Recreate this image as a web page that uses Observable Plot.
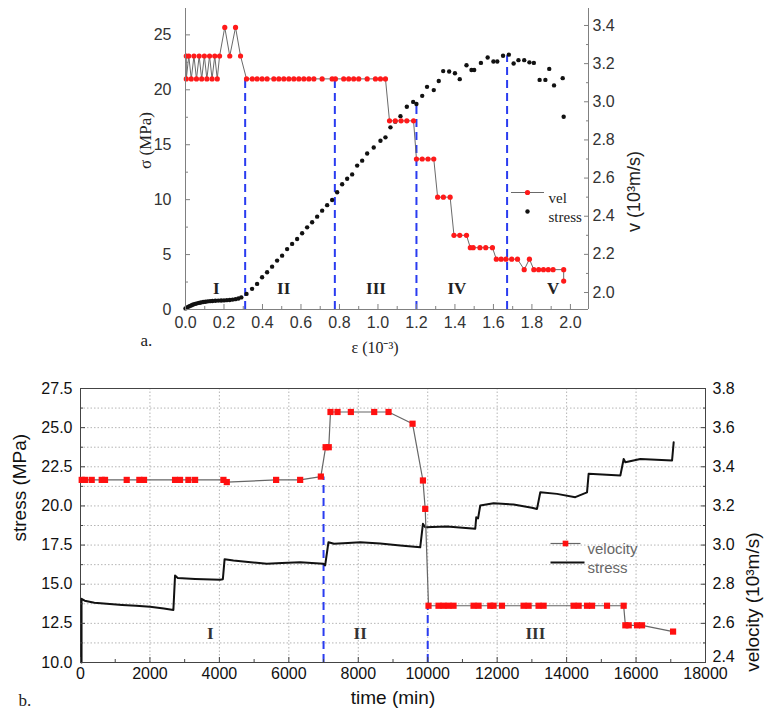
<!DOCTYPE html>
<html><head><meta charset="utf-8">
<script src="https://cdn.jsdelivr.net/npm/d3@7"></script>
<script src="https://cdn.jsdelivr.net/npm/@observablehq/plot@0.6"></script>
<style>
body{margin:0;background:#fff;}
#wrap{width:764px;height:714px;position:relative;overflow:hidden;background:#fff}
#a{position:absolute;left:0;top:0}
#b{position:absolute;left:0;top:365px}
</style></head><body><div id="wrap"><div id="a"></div><div id="b"></div></div>
<script>
// ---------- Panel a data: strain (1e-3) vs stress (MPa) and velocity (1e3 m/s)
const stressA = [[0.000,0.10],[0.008,0.18],[0.016,0.26],[0.024,0.33],[0.032,0.39],[0.040,0.45],[0.050,0.51],[0.060,0.56],[0.070,0.60],[0.080,0.64],[0.092,0.68],[0.104,0.71],[0.116,0.74],[0.128,0.76],[0.140,0.78],[0.155,0.80],[0.170,0.81],[0.185,0.82],[0.200,0.83],[0.215,0.85],[0.230,0.87],[0.245,0.90],[0.260,0.94],[0.275,1.00],[0.290,1.10],
[0.317,1.42],[0.346,1.88],[0.372,2.33],[0.398,2.94],[0.424,3.39],[0.450,3.90],[0.476,4.45],[0.502,4.90],[0.528,5.50],[0.554,5.97],[0.580,6.42],[0.606,6.94],[0.632,7.48],[0.658,7.94],[0.684,8.45],[0.710,9.00],[0.736,9.50],[0.762,9.97],[0.788,10.67],[0.814,11.40],[0.840,11.90],[0.866,12.30],[0.892,13.10],[0.918,13.55],[0.944,14.20],[0.978,14.75],[1.013,15.36],[1.039,15.67],[1.065,16.58],[1.090,17.10],[1.117,17.60],[1.150,18.45],[1.183,18.90],[1.200,18.70],[1.230,19.45],[1.255,20.27],[1.290,19.97],[1.316,20.80],[1.339,21.70],[1.370,21.67],[1.400,21.50],[1.425,20.97],[1.460,22.24],[1.486,21.80],[1.500,21.80],[1.535,22.45],[1.570,22.94],[1.600,22.58],[1.620,22.58],[1.650,23.10],[1.680,23.20],[1.705,22.40],[1.730,22.70],[1.760,22.70],[1.787,22.50],[1.810,22.45],[1.840,20.90],[1.870,20.90],[1.890,21.90],[1.915,20.40],[1.960,21.06],[1.965,17.55]];
const velA = [[0.004,3.24],[0.004,3.12],[0.017,3.24],[0.030,3.12],[0.044,3.24],[0.057,3.12],[0.071,3.24],[0.084,3.12],[0.098,3.24],[0.111,3.12],[0.125,3.24],[0.138,3.12],[0.152,3.24],[0.165,3.12],[0.177,3.24],[0.204,3.39],[0.230,3.24],[0.260,3.39],[0.286,3.24],
[0.317,3.12],[0.347,3.12],[0.372,3.12],[0.398,3.12],[0.424,3.12],[0.459,3.12],[0.485,3.12],[0.511,3.12],[0.537,3.12],[0.563,3.12],[0.589,3.12],[0.615,3.12],[0.641,3.12],[0.667,3.12],[0.710,3.12],[0.762,3.12],[0.779,3.12],[0.822,3.12],[0.848,3.12],[0.874,3.12],[0.900,3.12],[0.944,3.12],[0.987,3.12],[1.013,3.12],[1.039,3.12],
[1.060,2.90],[1.090,2.90],[1.120,2.90],[1.150,2.90],[1.185,2.90],
[1.200,2.70],[1.230,2.70],[1.260,2.70],[1.290,2.70],
[1.310,2.50],[1.340,2.50],[1.375,2.50],
[1.395,2.30],[1.425,2.30],[1.460,2.30],
[1.480,2.235],[1.495,2.235],[1.530,2.235],[1.560,2.235],[1.595,2.235],
[1.615,2.175],[1.640,2.175],[1.665,2.175],[1.695,2.175],[1.725,2.175],
[1.760,2.12],[1.787,2.175],
[1.810,2.12],[1.835,2.12],[1.860,2.12],[1.885,2.12],[1.910,2.12],[1.965,2.12],[1.965,2.06]];
const aXTicks = [0,0.2,0.4,0.6,0.8,1.0,1.2,1.4,1.6,1.8,2.0];
const aXMinor = [0.1,0.3,0.5,0.7,0.9,1.1,1.3,1.5,1.7,1.9];
const aSigmaTicks = [0,5,10,15,20,25];
const aSigmaMinor = [2.5,7.5,12.5,17.5,22.5];
const aVelTicks = [2.0,2.2,2.4,2.6,2.8,3.0,3.2,3.4];
const aVelMinor = [2.1,2.3,2.5,2.7,2.9,3.1,3.3];
const aBoundaryE = [0.31,0.776,1.2,1.671];
const aBoundaryTop = [21,21,18.8,23.1];
const aStages = ["I","II","III","IV","V"];
const aStageE = [0.16,0.51,0.99,1.41,1.91];

// ---------- Panel b data: time (min) vs stress (MPa) and velocity (1e3 m/s)
const stressB = [[30,10.0],[30,14.07],[120,13.95],[400,13.82],[755,13.75],[1200,13.68],[1600,13.62],[2003,13.56],[2400,13.45],[2675,13.36],[2723,15.55],[2800,15.40],[3300,15.34],[4020,15.28],[4100,15.32],[4150,16.60],[4404,16.51],[4900,16.40],[5366,16.30],[5800,16.36],[6326,16.40],[6997,16.30],[7046,16.20],[7141,17.68],[7300,17.58],[7700,17.64],[8055,17.68],[8631,17.60],[9207,17.47],[9784,17.36],[9862,18.86],[9928,18.64],[10553,18.68],[11369,18.54],[11398,19.28],[11450,19.20],[11513,20.03],[11897,20.17],[12473,20.09],[13000,19.88],[13148,19.81],[13242,20.87],[13723,20.77],[14250,20.56],[14588,20.87],[14634,22.05],[15548,21.94],[15643,23.00],[15692,22.79],[16124,23.00],[17037,22.90],[17084,24.07]];
const velB = [[35,3.333],[130,3.333],[323,3.333],[611,3.333],[706,3.333],[1331,3.333],[1695,3.333],[1830,3.333],[2723,3.333],[2867,3.333],[3107,3.333],[3300,3.333],[4116,3.333],[4213,3.322],[5634,3.333],[6326,3.333],[6922,3.35],[7060,3.5],[7150,3.5],[7200,3.68],[7402,3.68],[7786,3.68],[8459,3.68],[8872,3.68],[9563,3.62],[9862,3.33],[9928,3.185],[10023,2.69],[10311,2.69],[10455,2.69],[10599,2.69],[10743,2.69],[11320,2.69],[11464,2.69],[11801,2.69],[11897,2.69],[12138,2.69],[12761,2.69],[12905,2.69],[13193,2.69],[13337,2.69],[14202,2.69],[14346,2.69],[14588,2.69],[14732,2.69],[15164,2.69],[15643,2.69],[15692,2.59],[15788,2.59],[16028,2.59],[16172,2.59],[17066,2.558]];
const bXTicks = [0,2000,4000,6000,8000,10000,12000,14000,16000,18000];
const bXMinor = [1000,3000,5000,7000,9000,11000,13000,15000,17000];
const bStressTicks = [10,12.5,15,17.5,20,22.5,25,27.5];
const bStressMinor = [11.25,13.75,16.25,18.75,21.25,23.75,26.25];
const bVelTicks = [2.6,2.8,3.0,3.2,3.4,3.6,3.8];
const bVelBottomTick = [2.4];
const bVelMinor = [2.5,2.7,2.9,3.1,3.3,3.5,3.7];
const bGridY = [11.25,12.5,13.75,15,16.25,17.5,18.75,20,21.25,22.5,23.75,25,26.25];
const bGridX = [2000,4000,6000,8000,10000,12000,14000,16000];
const bBoundaryT = [7000,10000];
const bBoundaryTop = [21.85,13.6];
const bStages = ["I","II","III"];
const bStageT = [3740,8055,13100];

// ---------- styles
const SANS = "'Liberation Sans', Arial, Helvetica, sans-serif";
const SERIF = "'Liberation Serif', 'Times New Roman', serif";
const BLUE = "#2a3cf0";
const hLine = (w) => ({draw(ctx) { ctx.moveTo(-w / 2, 0); ctx.lineTo(w / 2, 0); }});
const blank = () => "";

// ---------- Panel a
const vToSigma = d3.scaleLinear().domain([1.911, 3.489]).range([0, 27.4]);
const stressRowsA = stressA.map(([e, s]) => ({e, s}));
const velRowsA = velA.map(([e, v]) => ({e, v, s: vToSigma(v)}));
const boundA = aBoundaryE.map((e, i) => ({e, top: aBoundaryTop[i]}));
const stageA = aStages.map((t, i) => ({t, e: aStageE[i]}));
const axA = "#808080";

const A = Plot.plot({
  width: 764, height: 365,
  marginLeft: 185, marginRight: 176, marginTop: 8, marginBottom: 56,
  x: {domain: [0, 2.094]},
  y: {domain: [0, 27.4]},
  style: {fontFamily: SANS, fontSize: "15px", color: "#333", background: "transparent", overflow: "visible"},
  marks: [
    Plot.ruleX(boundA, {x: "e", y1: 0, y2: "top", stroke: BLUE, strokeWidth: 2, strokeDasharray: "8,5"}),
    Plot.line(velRowsA, {x: "e", y: "s", stroke: "#6a6a6a", strokeWidth: 1}),
    Plot.dot(stressRowsA, {x: "e", y: "s", r: 2.2, fill: "#111"}),
    Plot.dot(velRowsA, {x: "e", y: "s", r: 2.6, fill: "#ff1a1a"}),
    Plot.text(stageA, {x: "e", y: () => 1.9, text: "t", fontFamily: SERIF, fontWeight: "bold", fontSize: 17, fill: "#222"}),
    // axis lines
    Plot.ruleX([0], {stroke: axA}),
    Plot.ruleX([2.094], {stroke: axA}),
    Plot.ruleY([0], {stroke: axA}),
    // bottom axis
    Plot.axisX(aXTicks, {tickSize: 0, tickPadding: 7, tickFormat: d3.format(".1f"), fontSize: 16, label: null}),
    Plot.axisX(aXTicks, {tickSize: -5, tickFormat: blank, label: null, stroke: axA}),
    Plot.axisX(aXMinor, {tickSize: -3, tickFormat: blank, label: null, stroke: axA}),
    // left axis (stress)
    Plot.axisY(aSigmaTicks, {tickSize: 0, tickPadding: 14, fontSize: 16, label: null}),
    Plot.axisY(aSigmaTicks, {tickSize: -5, tickFormat: blank, label: null, stroke: axA}),
    Plot.axisY(aSigmaMinor, {tickSize: -3, tickFormat: blank, label: null, stroke: axA}),
    // right axis (velocity)
    Plot.axisY(aVelTicks.map(vToSigma), {anchor: "right", tickSize: 0, tickPadding: 4, fontSize: 16, tickFormat: d => vToSigma.invert(d).toFixed(1), label: null}),
    Plot.axisY(aVelTicks.map(vToSigma), {anchor: "right", tickSize: -5, tickFormat: blank, label: null, stroke: axA}),
    Plot.axisY(aVelMinor.map(vToSigma), {anchor: "right", tickSize: -3, tickFormat: blank, label: null, stroke: axA}),
    // axis titles
    Plot.text(["σ (MPa)"], {frameAnchor: "left", dx: -40, dy: 10, rotate: -90, fontFamily: SERIF, fontSize: 17, fill: "#222"}),
    Plot.text(["v (10³m/s)"], {frameAnchor: "right", dx: 46, dy: -8, rotate: -90, fontFamily: SANS, fontSize: 18, fill: "#222"}),
    Plot.text(["ε (10⁻³)"], {frameAnchor: "bottom", dx: -12, dy: 43, fontFamily: SERIF, fontSize: 16, fill: "#222"}),
    Plot.text(["a."], {frameAnchor: "bottom-left", dx: -45, dy: 36, fontFamily: SERIF, fontSize: 17, fill: "#222"}),
    // legend
    Plot.dot([0], {frameAnchor: "top-left", dx: 342, dy: 184, symbol: hLine(33), fill: "none", stroke: "#6a6a6a", strokeWidth: 1}),
    Plot.dot([0], {frameAnchor: "top-left", dx: 342, dy: 184, r: 2.6, fill: "#ff1a1a"}),
    Plot.text(["vel"], {frameAnchor: "top-left", dx: 363, dy: 184, textAnchor: "start", fontFamily: SERIF, fontSize: 15, fill: "#222"}),
    Plot.dot([0], {frameAnchor: "top-left", dx: 342, dy: 203, r: 2.2, fill: "#111"}),
    Plot.text(["stress"], {frameAnchor: "top-left", dx: 363, dy: 203, textAnchor: "start", fontFamily: SERIF, fontSize: 15, fill: "#222"})
  ]
});
document.getElementById("a").appendChild(A);

// ---------- Panel b
const vToStress = d3.scaleLinear().domain([2.4, 3.8]).range([10, 27.5]);
const stressRowsB = stressB.map(([t, s]) => ({t, s}));
const velRowsB = velB.map(([t, v]) => ({t, v, s: vToStress(v)}));
const boundB = bBoundaryT.map((t, i) => ({t, top: bBoundaryTop[i]}));
const stageB = bStages.map((txt, i) => ({txt, t: bStageT[i]}));
const axB = "#444";
const vFmt = d => vToStress.invert(d).toFixed(1);

const B = Plot.plot({
  width: 764, height: 349,
  marginLeft: 80, marginRight: 59, marginTop: 23, marginBottom: 52,
  x: {domain: [0, 18000]},
  y: {domain: [10, 27.5]},
  style: {fontFamily: SANS, fontSize: "16px", color: "#111", background: "transparent", overflow: "visible"},
  marks: [
    Plot.ruleY(bGridY, {stroke: "#b5b5b5", strokeDasharray: "1.5,2"}),
    Plot.ruleX(bGridX, {stroke: "#b5b5b5", strokeDasharray: "1.5,2"}),
    Plot.frame({stroke: axB}),
    Plot.ruleX(boundB, {x: "t", y1: 10, y2: "top", stroke: BLUE, strokeWidth: 2, strokeDasharray: "8,5"}),
    Plot.line(stressRowsB, {x: "t", y: "s", stroke: "#111", strokeWidth: 2}),
    Plot.line(velRowsB, {x: "t", y: "s", stroke: "#666", strokeWidth: 1.2}),
    Plot.dot(velRowsB, {x: "t", y: "s", symbol: "square", r: 3.5, fill: "#ff1010"}),
    Plot.text(stageB, {x: "t", y: () => 11.85, text: "txt", fontFamily: SERIF, fontWeight: "bold", fontSize: 17, fill: "#333"}),
    // bottom axis
    Plot.axisX(bXTicks, {tickSize: 0, tickPadding: 5, fontSize: 16, tickFormat: d3.format("d"), label: null}),
    Plot.axisX(bXTicks, {tickSize: -5, tickFormat: blank, label: null, stroke: axB}),
    Plot.axisX(bXMinor, {tickSize: -3, tickFormat: blank, label: null, stroke: axB}),
    // left axis
    Plot.axisY(bStressTicks, {tickSize: 0, tickPadding: 8, fontSize: 16, tickFormat: d3.format(".1f"), label: null}),
    Plot.axisY(bStressTicks, {tickSize: -5, tickFormat: blank, label: null, stroke: axB}),
    Plot.axisY(bStressMinor, {tickSize: -3, tickFormat: blank, label: null, stroke: axB}),
    // right axis
    Plot.axisY(bVelTicks.map(vToStress), {anchor: "right", tickSize: 0, tickPadding: 7, fontSize: 16, tickFormat: vFmt, label: null}),
    Plot.axisY(bVelBottomTick.map(vToStress), {anchor: "right", tickSize: 0, tickPadding: 7, dy: -6, fontSize: 16, tickFormat: vFmt, label: null}),
    Plot.axisY(bVelTicks.map(vToStress), {anchor: "right", tickSize: -5, tickFormat: blank, label: null, stroke: axB}),
    Plot.axisY(bVelMinor.map(vToStress), {anchor: "right", tickSize: -3, tickFormat: blank, label: null, stroke: axB}),
    // titles
    Plot.text(["stress (MPa)"], {frameAnchor: "left", dx: -61, dy: 16, rotate: -90, fontSize: 19, fill: "#111"}),
    Plot.text(["velocity (10³m/s)"], {frameAnchor: "right", dx: 47, dy: 7, rotate: -90, fontSize: 19, fill: "#111"}),
    Plot.text(["time (min)"], {frameAnchor: "bottom", dy: 41, fontSize: 19, fill: "#111"}),
    Plot.text(["b."], {frameAnchor: "bottom-left", dx: -62, dy: 43, fontFamily: SERIF, fontSize: 17, fill: "#222"}),
    // legend
    Plot.dot([0], {frameAnchor: "top-left", dx: 485, dy: 155, symbol: hLine(30), fill: "none", stroke: "#666", strokeWidth: 1.2}),
    Plot.dot([0], {frameAnchor: "top-left", dx: 485, dy: 155, symbol: "square", r: 3.2, fill: "#ff1010"}),
    Plot.text(["velocity"], {frameAnchor: "top-left", dx: 507, dy: 155, textAnchor: "start", fontSize: 15, fill: "#666"}),
    Plot.dot([0], {frameAnchor: "top-left", dx: 487, dy: 174, symbol: hLine(34), fill: "none", stroke: "#111", strokeWidth: 2}),
    Plot.text(["stress"], {frameAnchor: "top-left", dx: 507, dy: 174, textAnchor: "start", fontSize: 15, fill: "#666"})
  ]
});
document.getElementById("b").appendChild(B);
</script></body></html>
